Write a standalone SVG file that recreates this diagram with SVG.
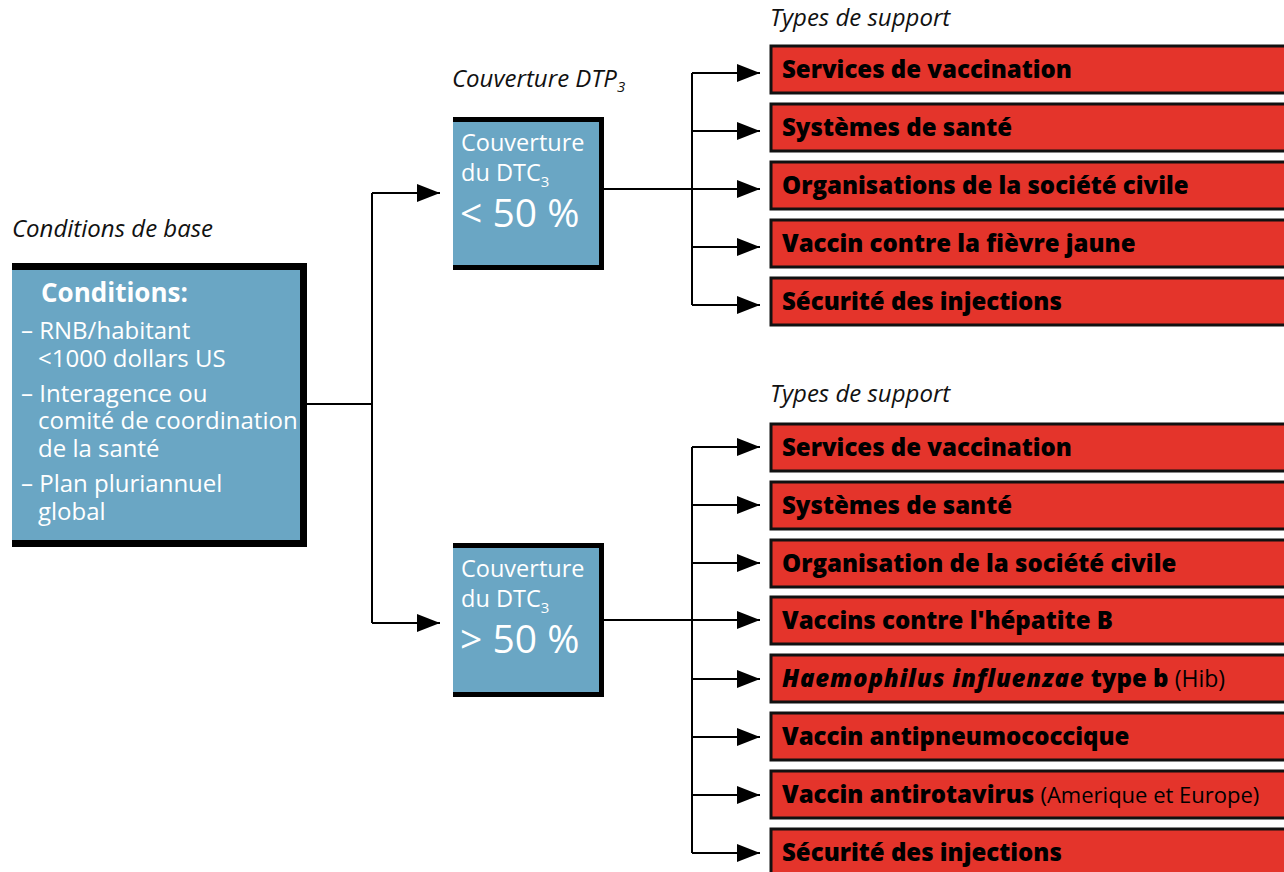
<svg xmlns="http://www.w3.org/2000/svg" width="1284" height="872" viewBox="0 0 1284 872">
<defs>
<style>
text{font-family:"Open Sans","Noto Sans","Liberation Sans",sans-serif;}
.it{font-style:italic;font-size:24px;fill:#111;}
.wt{fill:#fff;font-size:24px;}
.cv{fill:#fff;font-size:23.5px;}
.pc{fill:#fff;font-size:39px;}
.hd{fill:#fff;font-size:26px;font-weight:700;}
.rb{fill:#e4342b;stroke:#111;stroke-width:3;}
.rt{font-weight:800;font-size:24px;fill:#000;}
.nr{font-weight:400;font-size:23px;}
.sub{font-size:15px;}
.sh{fill:#000;}
.bl{fill:#6aa6c4;}
.ln{fill:none;stroke:#000;stroke-width:2;}
</style>
<marker id="ah" markerUnits="userSpaceOnUse" markerWidth="24" markerHeight="18" refX="23" refY="9" orient="auto">
<path d="M0,0 L23,9 L0,18 Z" fill="#000"/>
</marker>
</defs>
<rect width="1284" height="872" fill="#fff"/>

<text class="it" x="12" y="237">Conditions de base</text>
<text class="it" x="452" y="87">Couverture DTP<tspan class="sub" dy="5">3</tspan></text>
<text class="it" x="770" y="26">Types de support</text>
<text class="it" x="770" y="402">Types de support</text>

<g id="connectors">
<path class="ln" d="M307,404 H372"/>
<path class="ln" d="M372,193 V623"/>
<path class="ln" d="M372,193 H440" marker-end="url(#ah)"/>
<path class="ln" d="M372,623 H440" marker-end="url(#ah)"/>
<path class="ln" d="M604,189 H692"/>
<path class="ln" d="M692,73 V305"/>
<path class="ln" d="M692,73 H760" marker-end="url(#ah)"/>
<path class="ln" d="M692,131 H760" marker-end="url(#ah)"/>
<path class="ln" d="M692,189 H760" marker-end="url(#ah)"/>
<path class="ln" d="M692,247 H760" marker-end="url(#ah)"/>
<path class="ln" d="M692,305 H760" marker-end="url(#ah)"/>
<path class="ln" d="M604,620 H692"/>
<path class="ln" d="M692,447 V853"/>
<path class="ln" d="M692,447 H760" marker-end="url(#ah)"/>
<path class="ln" d="M692,505 H760" marker-end="url(#ah)"/>
<path class="ln" d="M692,563 H760" marker-end="url(#ah)"/>
<path class="ln" d="M692,620 H760" marker-end="url(#ah)"/>
<path class="ln" d="M692,679 H760" marker-end="url(#ah)"/>
<path class="ln" d="M692,737 H760" marker-end="url(#ah)"/>
<path class="ln" d="M692,795 H760" marker-end="url(#ah)"/>
<path class="ln" d="M692,853 H760" marker-end="url(#ah)"/>
</g>

<g id="conditions">
<rect class="sh" x="12" y="263" width="295" height="284"/>
<rect class="bl" x="12" y="270" width="288" height="270"/>
<text class="hd" x="41" y="302">Conditions:</text>
<text class="wt" x="21" y="339">– RNB/habitant</text>
<text class="wt" x="38" y="367">&lt;1000 dollars US</text>
<text class="wt" x="21" y="402">– Interagence ou</text>
<text class="wt" x="38" y="429">comité de coordination</text>
<text class="wt" x="38" y="457">de la santé</text>
<text class="wt" x="21" y="492">– Plan pluriannuel</text>
<text class="wt" x="38" y="520">global</text>
</g>

<g id="cov-low">
<rect class="sh" x="453" y="117" width="151" height="153"/>
<rect class="bl" x="453" y="122" width="146" height="143"/>
<text class="cv" x="461" y="151">Couverture</text>
<text class="cv" x="461" y="181">du DTC<tspan class="sub" dy="6">3</tspan></text>
<text class="pc" x="460" y="227">&lt; 50 %</text>
</g>

<g id="cov-high">
<rect class="sh" x="453" y="543" width="151" height="154"/>
<rect class="bl" x="453" y="548" width="146" height="144"/>
<text class="cv" x="461" y="577">Couverture</text>
<text class="cv" x="461" y="607">du DTC<tspan class="sub" dy="6">3</tspan></text>
<text class="pc" x="460" y="653">&gt; 50 %</text>
</g>

<g id="top-1"><rect class="rb" x="771" y="46" width="530" height="47"/><text class="rt" x="782" y="78">Services de vaccination</text></g>
<g id="top-2"><rect class="rb" x="771" y="104" width="530" height="47"/><text class="rt" x="782" y="136">Systèmes de santé</text></g>
<g id="top-3"><rect class="rb" x="771" y="162" width="530" height="47"/><text class="rt" x="782" y="194">Organisations de la société civile</text></g>
<g id="top-4"><rect class="rb" x="771" y="220" width="530" height="47"/><text class="rt" x="782" y="252">Vaccin contre la fièvre jaune</text></g>
<g id="top-5"><rect class="rb" x="771" y="278" width="530" height="47"/><text class="rt" x="782" y="310">Sécurité des injections</text></g>

<g id="bot-1"><rect class="rb" x="771" y="424" width="530" height="47"/><text class="rt" x="782" y="456">Services de vaccination</text></g>
<g id="bot-2"><rect class="rb" x="771" y="482" width="530" height="47"/><text class="rt" x="782" y="514">Systèmes de santé</text></g>
<g id="bot-3"><rect class="rb" x="771" y="540" width="530" height="47"/><text class="rt" x="782" y="572">Organisation de la société civile</text></g>
<g id="bot-4"><rect class="rb" x="771" y="597" width="530" height="47"/><text class="rt" x="782" y="629">Vaccins contre l'hépatite B</text></g>
<g id="bot-5"><rect class="rb" x="771" y="655" width="530" height="47"/><text class="rt" x="782" y="687"><tspan font-style="italic" letter-spacing="0.8">Haemophilus influenzae</tspan> type b <tspan class="nr">(Hib)</tspan></text></g>
<g id="bot-6"><rect class="rb" x="771" y="713" width="530" height="47"/><text class="rt" x="782" y="745">Vaccin antipneumococcique</text></g>
<g id="bot-7"><rect class="rb" x="771" y="771" width="530" height="47"/><text class="rt" x="782" y="803">Vaccin antirotavirus <tspan class="nr" style="font-size:22px">(Amerique et Europe)</tspan></text></g>
<g id="bot-8"><rect class="rb" x="771" y="829" width="530" height="47"/><text class="rt" x="782" y="861">Sécurité des injections</text></g>
</svg>
